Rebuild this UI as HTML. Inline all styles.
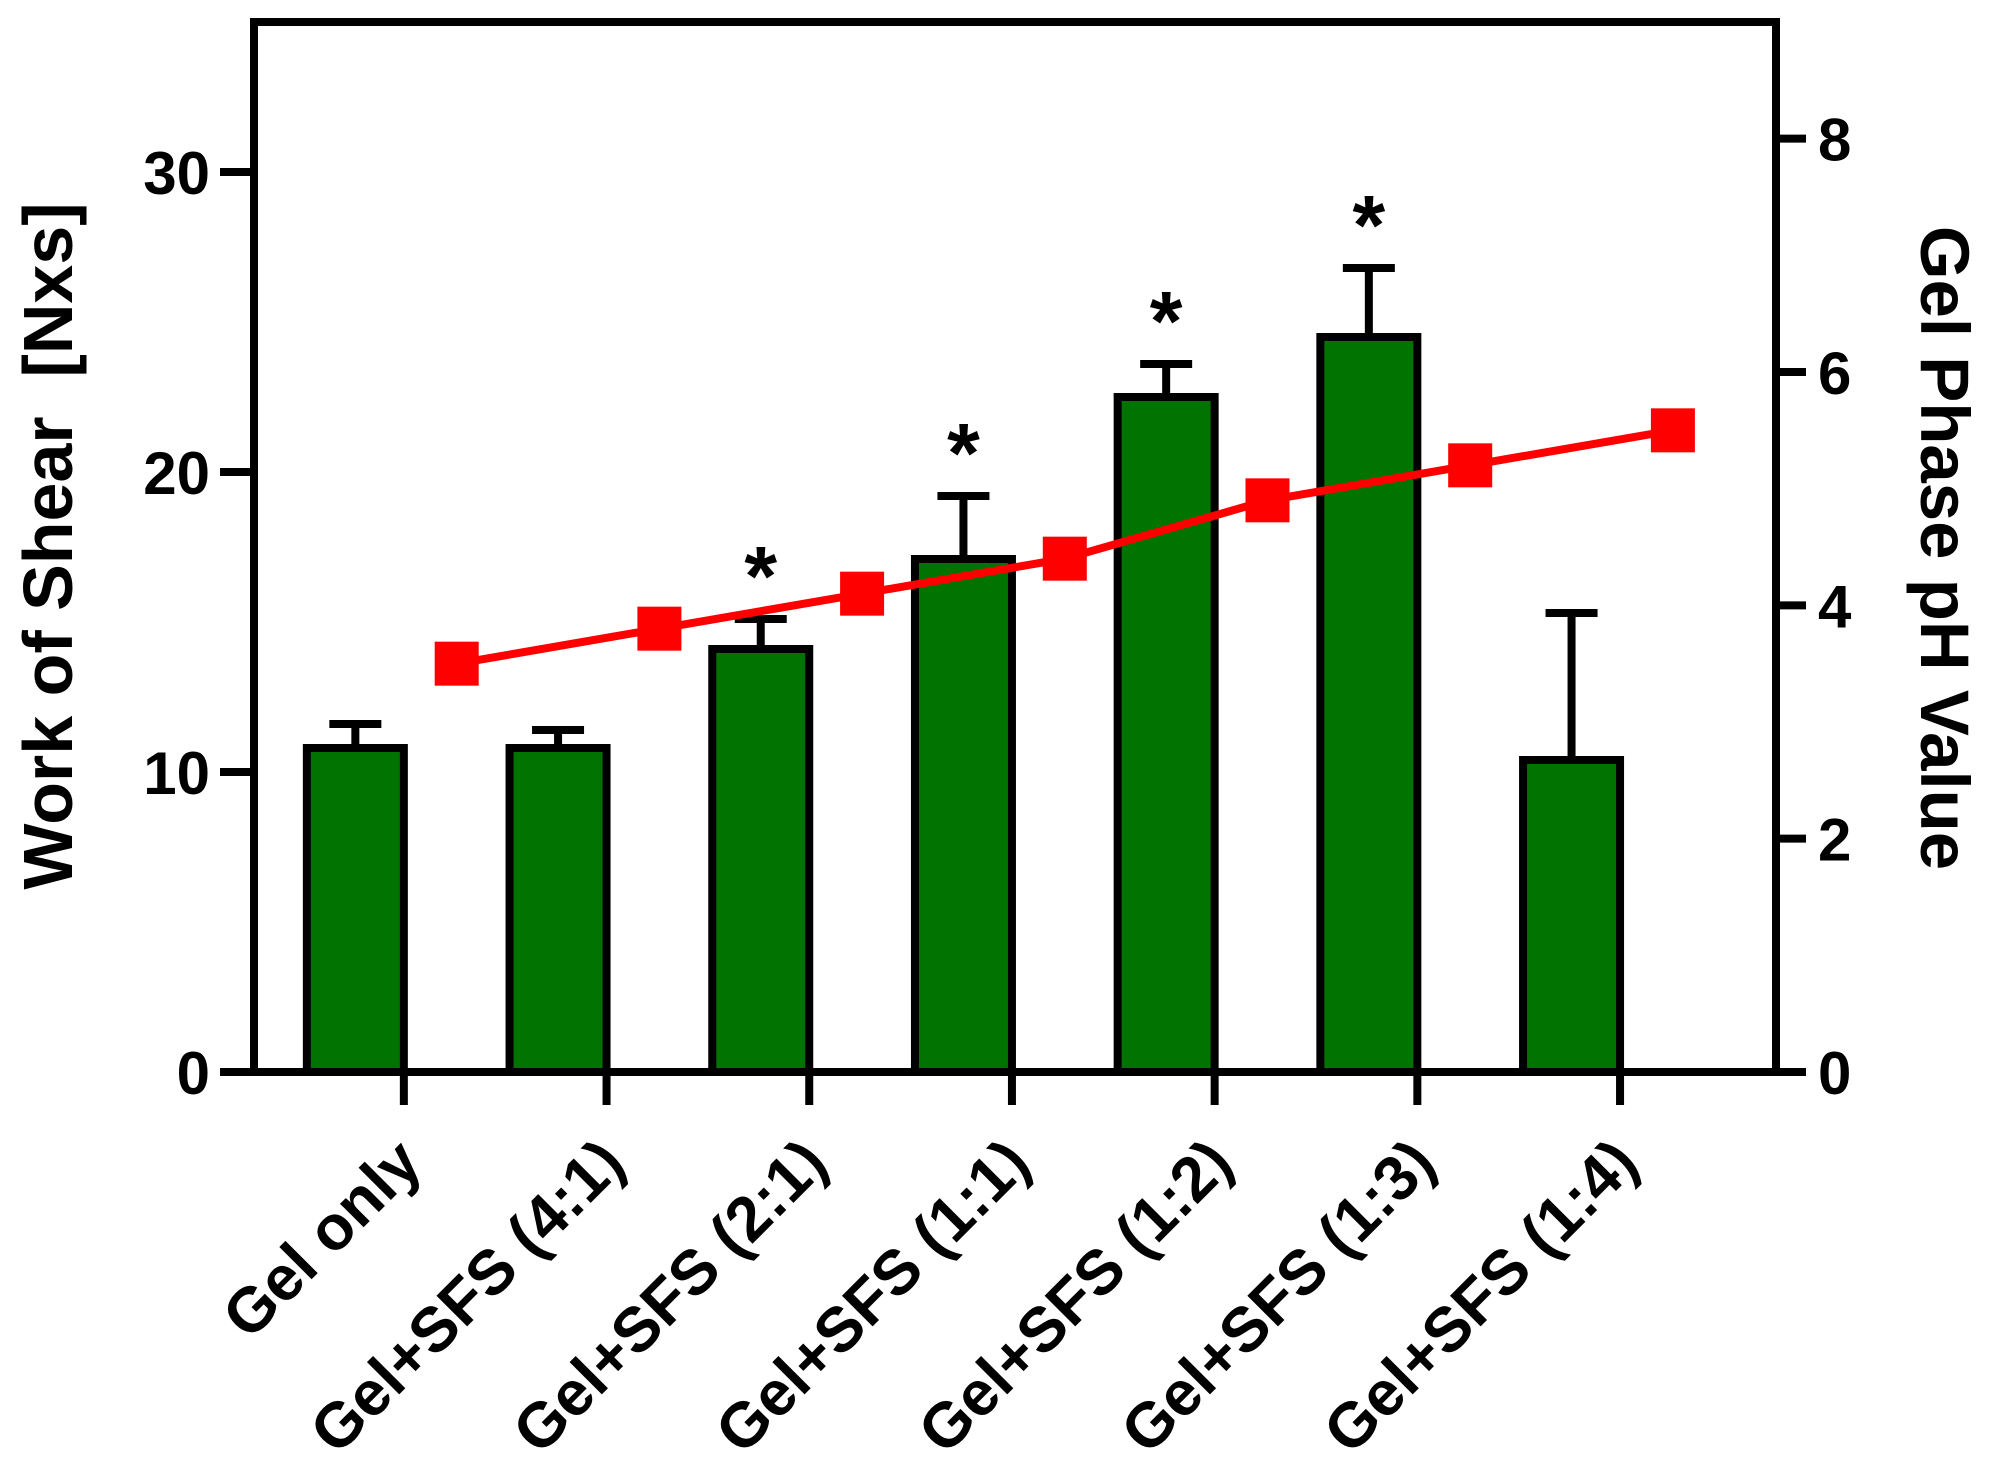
<!DOCTYPE html>
<html><head><meta charset="utf-8"><style>
html,body{margin:0;padding:0;background:#fff;}
svg{display:block;font-family:"Liberation Sans",Arial,sans-serif;font-weight:bold;}
</style></head><body>
<svg id="chart" width="2008" height="1462" viewBox="0 0 2008 1462" xmlns="http://www.w3.org/2000/svg"></svg>
<script>
const categories = ["Gel only","Gel+SFS (4:1)","Gel+SFS (2:1)","Gel+SFS (1:1)","Gel+SFS (1:2)","Gel+SFS (1:3)","Gel+SFS (1:4)"];
const shearValues = [10.8, 10.8, 14.1, 17.1, 22.5, 24.5, 10.4];
const shearErrorTops = [11.6, 11.4, 15.1, 19.2, 23.6, 26.8, 15.3];
const significant = [false, false, true, true, true, true, false];
const phValues = [3.5, 3.8, 4.1, 4.4, 4.9, 5.2, 5.5];
const leftTicks = [0, 10, 20, 30];
const rightTicks = [0, 2, 4, 6, 8];

const svg = document.getElementById('chart');
const NS = 'http://www.w3.org/2000/svg';
const L = 254, R = 1776, T = 22, B = 1072;
const band = 202.7;
const yL = v => B - (B - T) * v / 35;
const yR = v => B - (B - T) * v / 9;
const xC = i => L + band * (i + 0.5);
const SW = 8;
function mk(tag, attrs, parent) {
  const e = document.createElementNS(NS, tag);
  for (const k in attrs) e.setAttribute(k, attrs[k]);
  (parent || svg).appendChild(e);
  return e;
}
categories.forEach((c, i) => {
  const x = xC(i), w = 97;
  const tx0 = x + w / 2;
  const er = mk('line', {x1: x, x2: x, y1: yL(shearValues[i]), y2: yL(shearErrorTops[i]), stroke: '#000', 'stroke-width': SW});
  
  
  const cap = mk('line', {x1: x - 26, x2: x + 26, y1: yL(shearErrorTops[i]), y2: yL(shearErrorTops[i]), stroke: '#000', 'stroke-width': SW});
  
  
  const r = mk('rect', {x: x - w / 2, y: yL(shearValues[i]), width: w, height: B - yL(shearValues[i]), fill: '#007300', stroke: '#000', 'stroke-width': SW});
  
  
  if (significant[i]) {
    const s = mk('text', {x: x, y: yL(shearErrorTops[i]) - 14, 'text-anchor': 'middle', 'font-size': 84});
    s.textContent = '*';
    
    
  }
  const t = mk('line', {x1: tx0, x2: tx0, y1: B, y2: B + 33, stroke: '#000', 'stroke-width': SW});
  
  
  const lab = mk('text', {x: 0, y: 0, 'text-anchor': 'end', 'font-size': 63, transform: `translate(${tx0 + 21},${B + 94}) rotate(-45)`});
  lab.textContent = c;
  
  
});
const fr = mk('path', {d: `M${L},${T} L${R},${T} L${R},${B} L${L},${B} Z`, fill: 'none', stroke: '#000', 'stroke-width': SW});


leftTicks.forEach(v => {
  const tk = mk('line', {x1: L - 34, x2: L, y1: yL(v), y2: yL(v), stroke: '#000', 'stroke-width': SW});
  
  
  const tx = mk('text', {x: 210, y: yL(v) + 22, 'text-anchor': 'end', 'font-size': 60});
  tx.textContent = v;
  
  
});
rightTicks.forEach(v => {
  const tk = mk('line', {x1: R, x2: R + 30, y1: yR(v), y2: yR(v), stroke: '#000', 'stroke-width': SW});
  
  
  const tx = mk('text', {x: 1818, y: yR(v) + 22, 'text-anchor': 'start', 'font-size': 60});
  tx.textContent = v;
  
  
});
const pts = phValues.map((v, i) => [xC(i) + band / 2, yR(v)]);
const pl = mk('polyline', {points: pts.map(p => p.join(',')).join(' '), fill: 'none', stroke: '#ff0000', 'stroke-width': 8});


pts.forEach((p, i) => {
  const m = mk('rect', {x: p[0] - 22, y: p[1] - 22, width: 44, height: 44, fill: '#ff0000'});
  
  
});
const lt = mk('text', {x: 0, y: 0, 'text-anchor': 'middle', 'font-size': 70, transform: `translate(72,546) rotate(-90)`});
lt.textContent = 'Work of Shear\u00a0 [Nxs]';


const rt = mk('text', {x: 0, y: 0, 'text-anchor': 'middle', 'font-size': 69, transform: `translate(1921,548) rotate(90)`});
rt.textContent = 'Gel Phase pH Value';


</script>
</body></html>
